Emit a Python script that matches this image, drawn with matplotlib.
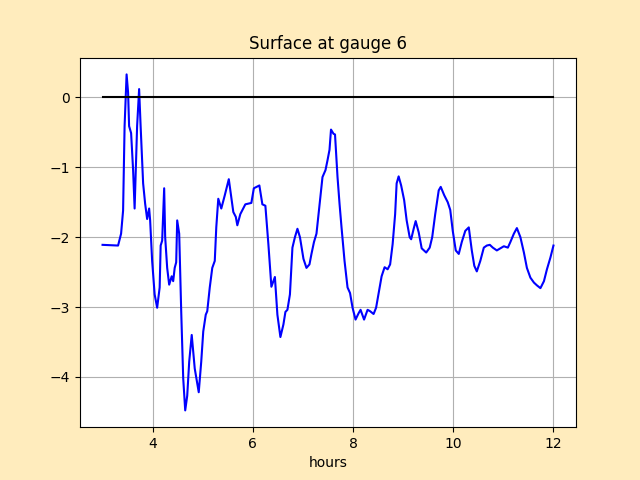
import matplotlib
matplotlib.use("Agg")
from matplotlib import pyplot as plt

# gauge record (time in hours, surface in m)
hours = [3.00, 3.31, 3.37, 3.41, 3.44, 3.48, 3.51, 3.53, 3.57, 3.61, 3.64,
         3.69, 3.73, 3.76, 3.81, 3.85, 3.89, 3.93, 3.95, 3.99, 4.04, 4.09,
         4.14, 4.16, 4.19, 4.23, 4.25, 4.29, 4.33, 4.38, 4.41, 4.44, 4.47,
         4.49, 4.53, 4.57, 4.61, 4.65, 4.69, 4.73, 4.78, 4.84, 4.92, 4.97,
         5.01, 5.06, 5.09, 5.14, 5.19, 5.24, 5.27, 5.31, 5.37, 5.44, 5.52,
         5.61, 5.66, 5.69, 5.75, 5.85, 5.97, 6.02, 6.13, 6.19, 6.25, 6.31,
         6.37, 6.44, 6.49, 6.55, 6.61, 6.65, 6.69, 6.74, 6.79, 6.84, 6.89,
         6.94, 7.01, 7.07, 7.13, 7.17, 7.22, 7.27, 7.34, 7.39, 7.45, 7.49,
         7.53, 7.56, 7.61, 7.64, 7.69, 7.73, 7.77, 7.83, 7.89, 7.94, 7.99,
         8.05, 8.11, 8.15, 8.22, 8.29, 8.34, 8.41, 8.46, 8.53, 8.57, 8.63,
         8.69, 8.74, 8.79, 8.84, 8.87, 8.91, 8.96, 9.02, 9.07, 9.13, 9.16,
         9.21, 9.25, 9.31, 9.37, 9.46, 9.53, 9.58, 9.64, 9.71, 9.75, 9.82,
         9.89, 9.94, 9.99, 10.05, 10.11, 10.17, 10.24, 10.31, 10.37, 10.42,
         10.47, 10.54, 10.61, 10.67, 10.73, 10.79, 10.87, 10.94, 11.01,
         11.09, 11.14, 11.21, 11.27, 11.34, 11.41, 11.47, 11.54, 11.61,
         11.67, 11.74, 11.81, 11.87, 11.94, 12.00]
surface = [-2.11, -2.12, -1.95, -1.62, -0.41, 0.33, 0.07, -0.41, -0.51, -1.04, -1.59,
           -0.41, 0.12, -0.41, -1.23, -1.52, -1.74, -1.59, -1.76, -2.34, -2.82, -3.01,
           -2.72, -2.12, -2.05, -1.30, -2.00, -2.44, -2.68, -2.56, -2.63, -2.44, -2.36,
           -1.76, -1.95, -3.06, -4.02, -4.48, -4.27, -3.78, -3.40, -3.88, -4.22, -3.78,
           -3.35, -3.11, -3.06, -2.72, -2.44, -2.34, -1.86, -1.45, -1.59, -1.40, -1.17,
           -1.64, -1.71, -1.83, -1.67, -1.53, -1.51, -1.30, -1.26, -1.53, -1.55, -2.10,
           -2.71, -2.57, -3.11, -3.43, -3.25, -3.07, -3.04, -2.82, -2.15, -2.00, -1.88,
           -2.00, -2.31, -2.44, -2.39, -2.24, -2.07, -1.95, -1.47, -1.14, -1.04, -0.90,
           -0.75, -0.46, -0.52, -0.53, -1.14, -1.52, -1.86, -2.34, -2.72, -2.80, -3.01,
           -3.18, -3.09, -3.04, -3.18, -3.04, -3.06, -3.10, -3.01, -2.72, -2.56, -2.43,
           -2.46, -2.39, -2.10, -1.67, -1.23, -1.13, -1.26, -1.47, -1.76, -2.00, -2.03,
           -1.88, -1.77, -1.93, -2.16, -2.22, -2.15, -2.00, -1.67, -1.33, -1.28, -1.40,
           -1.50, -1.61, -1.91, -2.19, -2.24, -2.07, -1.91, -1.86, -2.19, -2.41,
           -2.49, -2.34, -2.15, -2.12, -2.11, -2.15, -2.19, -2.16, -2.13,
           -2.15, -2.07, -1.95, -1.87, -2.00, -2.22, -2.44, -2.58, -2.65,
           -2.69, -2.73, -2.63, -2.46, -2.29, -2.12]

t_start, t_end = 3.0, 12.0
reference_level = 0.0

fig = plt.figure(figsize=(6.4, 4.8), dpi=100, facecolor="#ffecbd")
ax = fig.add_subplot(111)
ax.plot(hours, surface, "b")
ax.plot([t_start, t_end], [reference_level, reference_level], "k")
ax.set_title("Surface at gauge 6")
ax.set_xlabel("hours")
ax.grid(True)
fig.savefig("out.png", facecolor=fig.get_facecolor())
